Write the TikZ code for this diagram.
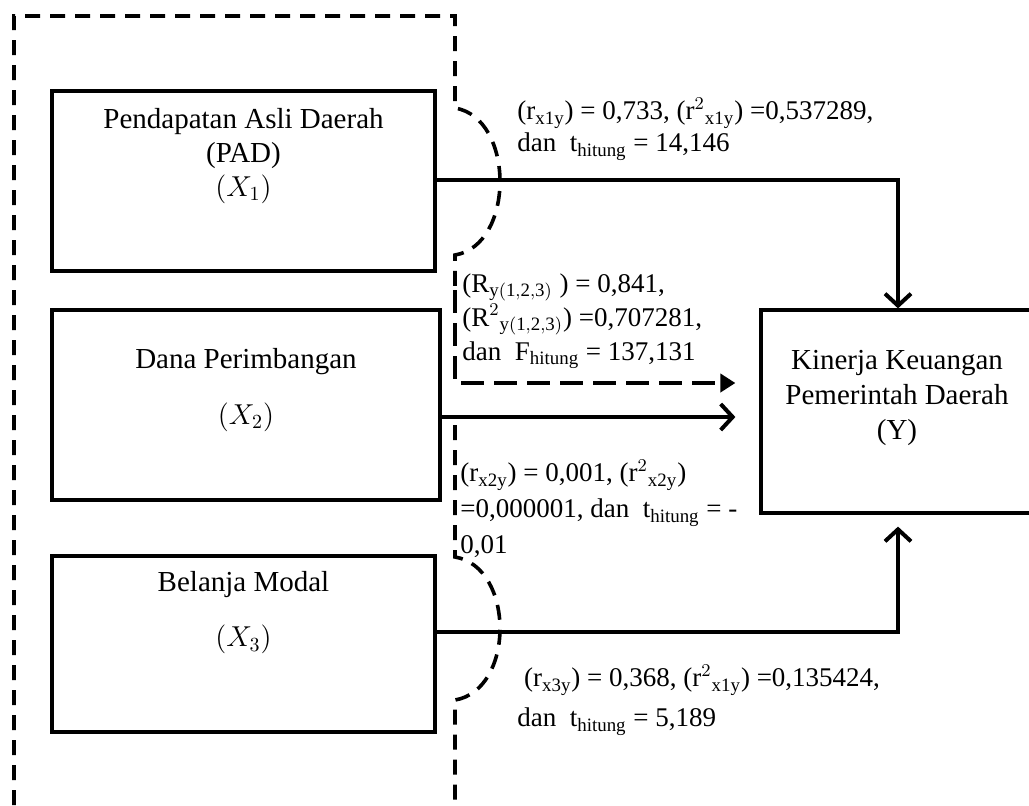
\documentclass[tikz,border=0pt]{standalone}
\usepackage{fontspec}
\setmainfont{Liberation Serif}
\usetikzlibrary{arrows.meta}
\begin{document}
\begin{tikzpicture}[x=0.5pt,y=-0.5pt,
  box/.style={draw,line width=1.6pt,inner sep=0pt},
  txt/.style={inner sep=0pt,align=center,font=\fontsize{14.5}{17}\selectfont},
  lbl/.style={inner sep=0pt,align=left,anchor=west},
  solidarr/.style={line width=2pt,-{Straight Barb[length=6pt,width=13pt,line width=2pt]}},
  dashline/.style={line width=1.8pt,dash pattern=on 7.5pt off 5pt},
  dasharr/.style={line width=2pt,dash pattern=on 11.5pt off 5pt,-{Triangle[length=7.5pt,width=9pt]}}]
\useasboundingbox (0,0) rectangle (1029,805);
% boxes
\node[box,minimum width=191.5pt,minimum height=90pt] (b1) at (243.5,181) {};
\node[box,minimum width=194pt,minimum height=95pt] (b2) at (246,405) {};
\node[box,minimum width=191.5pt,minimum height=88pt] (b3) at (243.5,644) {};
\node[box,minimum width=137pt,minimum height=101.5pt] (yb) at (898,411.5) {};
% box texts
\node[txt,font=\fontsize{14.5}{17}\selectfont] (t1) at (243.5,156) {Pendapatan Asli Daerah\\(PAD)\\$(X_1)$};
\node[txt,font=\fontsize{14.5}{28}\selectfont] (t2) at (246,390) {Dana Perimbangan\\$(X_2)$};
\node[txt,font=\fontsize{14.5}{27.5}\selectfont] (t3) at (243.5,613) {Belanja Modal\\$(X_3)$};
\node[txt,font=\fontsize{14.5}{17.5}\selectfont] (ty) at (897,398) {Kinerja Keuangan\\Pemerintah Daerah\\(Y)};
% outer dashed frame
\coordinate (fbl) at (14,805);
\coordinate (ftl) at (14,16);
\coordinate (ftr) at (455,16);
\coordinate (a1s) at (455,108);
\coordinate (a1e) at (455,255);
\coordinate (dc) at (455,383);
\coordinate (a2s) at (455,557);
\coordinate (a2e) at (455,700);
\coordinate (fbr) at (455,805);
\coordinate (seg) at (455,425);
\draw[dashline] (fbl) -- (ftl) -- (ftr) -- (a1s)
   .. controls (515,118) and (515,245) .. (a1e) -- (455,288);
\draw[dasharr] (455,290) -- (dc) -- ([xshift=-12pt,yshift=14.25pt]yb.west);
\draw[dashline] (seg) -- (a2s)
   .. controls (515,567) and (515,690) .. (a2e) -- (fbr);
% solid arrows
\draw[solidarr] ([yshift=0.5pt]b1.east) -| (yb.north);
\draw[solidarr] ([yshift=-6pt]b2.east) -- ([xshift=-12pt,yshift=-2.75pt]yb.west);
\draw[solidarr] ([yshift=6pt]b3.east) -| ([yshift=-6pt]yb.south);
% labels
\node[lbl,font=\fontsize{13.5}{16}\selectfont] (l1) at (517,129)
  {(r$_{\mathrm{x1y}}$) = 0,733, (r$^{2}{}_{\mathrm{x1y}}$) =0,537289,\\dan\ \ t\textsubscript{hitung} = 14,146};
\node[lbl,font=\fontsize{13.5}{17}\selectfont] (l2) at (462,321)
  {(R$_{\mathrm{y(1,2,3)}}$ ) = 0,841,\\(R$^{2}{}_{\mathrm{y(1,2,3)}}$) =0,707281,\\dan\ \ F\textsubscript{hitung} = 137,131};
\node[lbl,font=\fontsize{13.5}{18}\selectfont] (l3) at (460,509)
  {(r$_{\mathrm{x2y}}$) = 0,001, (r$^{2}{}_{\mathrm{x2y}}$)\\=0,000001, dan\ \ t\textsubscript{hitung} = -\\0,01};
\node[lbl,font=\fontsize{13.5}{20}\selectfont] (l4) at (517,700)
  {\ (r$_{\mathrm{x3y}}$) = 0,368, (r$^{2}{}_{\mathrm{x1y}}$) =0,135424,\\dan\ \ t\textsubscript{hitung} = 5,189};
\end{tikzpicture}
\end{document}
